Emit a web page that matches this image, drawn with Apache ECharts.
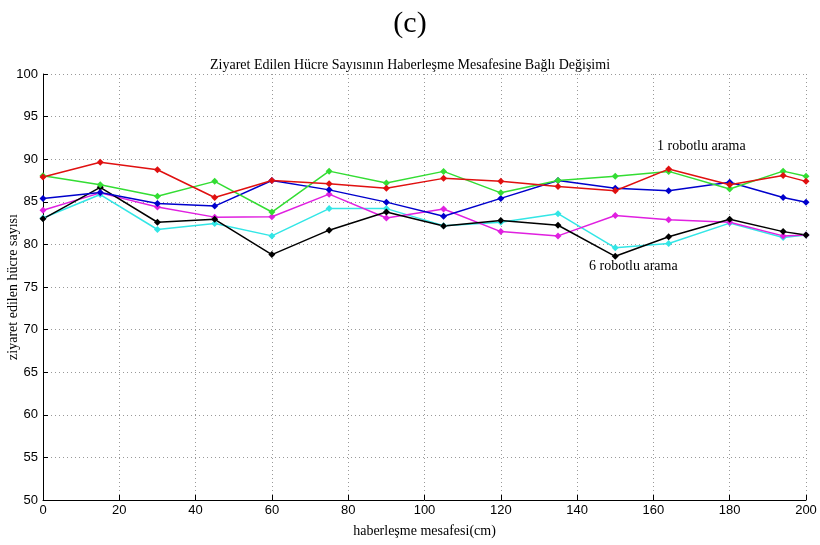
<!DOCTYPE html>
<html>
<head>
<meta charset="utf-8">
<script src="https://cdn.jsdelivr.net/npm/echarts@6/dist/echarts.min.js"></script>
<style>
  html, body { margin: 0; padding: 0; background: #fff; }
  #chart { width: 820px; height: 545px; }
</style>
</head>
<body>
<div id="chart"></div>
<script>
// mesafe (cm)
const distances = [0, 15, 30, 45, 60, 75, 90, 105, 120, 135, 150, 164, 180, 194, 200]

// her seri bir robot sayisi
const redValues = [87.9, 89.65, 88.76, 85.5, 87.5, 87.13, 86.6, 87.75, 87.4, 86.8, 86.3, 88.84, 87.0, 88.1, 87.4]
const greenValues = [88.06, 87.0, 85.66, 87.4, 83.8, 88.6, 87.2, 88.57, 86.05, 87.5, 88.0, 88.57, 86.5, 88.6, 88.0]
const blueValues = [85.4, 86.1, 84.8, 84.5, 87.5, 86.4, 84.96, 83.3, 85.4, 87.5, 86.6, 86.3, 87.3, 85.5, 84.96]
const magentaValues = [84.0, 86.05, 84.4, 83.2, 83.25, 85.9, 83.1, 84.15, 81.5, 81.0, 83.4, 82.9, 82.6, 81.0, 81.1]
const cyanValues = [83.1, 85.85, 81.75, 82.45, 81.0, 84.2, 84.2, 82.2, 82.6, 83.6, 79.6, 80.1, 82.5, 80.8, 81.1]
const blackValues = [83.0, 86.7, 82.6, 82.95, 78.8, 81.67, 83.8, 82.17, 82.8, 82.25, 78.6, 80.9, 82.95, 81.5, 81.1]

const chart = echarts.init(document.getElementById('chart'))

function makeSeries(values, color) {
  return {
    type: 'line',
    data: values.map((v, i) => [distances[i], v]),
    symbol: 'diamond',
    symbolSize: 7,
    showSymbol: true,
    lineStyle: { color: color, width: 1.5 },
    itemStyle: { color: color },
    animation: false,
  }
}

const series = [
  makeSeries(cyanValues, '#33e6e6'),
  makeSeries(magentaValues, '#e020e0'),
  makeSeries(blackValues, '#000000'),
  makeSeries(blueValues, '#0000cc'),
  makeSeries(greenValues, '#33dd33'),
  makeSeries(redValues, '#e01010'),
]

chart.setOption({
  backgroundColor: '#fff',
  animation: false,
  title: [
    {
      text: '(c)',
      left: 'center',
      top: 4,
      textStyle: { fontFamily: 'Liberation Serif', fontSize: 30, fontWeight: 'normal', color: '#000' },
    },
    {
      text: 'Ziyaret Edilen Hücre Sayısının Haberleşme Mesafesine Bağlı Değişimi',
      left: 'center',
      top: 53,
      textStyle: { fontFamily: 'Liberation Serif', fontSize: 14, fontWeight: 'normal', color: '#000' },
    },
  ],
  grid: {
    left: 43,
    right: 14,
    top: 74,
    bottom: 45,
    outerBoundsMode: 'none',
  },
  xAxis: {
    type: 'value',
    min: 0,
    max: 200,
    interval: 20,
    name: 'haberleşme mesafesi(cm)',
    nameLocation: 'middle',
    nameGap: 24,
    nameTextStyle: { fontFamily: 'Liberation Serif', fontSize: 14, color: '#000' },
    axisLine: { show: true, lineStyle: { color: '#000', width: 1 } },
    axisTick: { show: true, inside: true, length: 5, lineStyle: { color: '#000' } },
    axisLabel: { fontFamily: 'Liberation Sans', fontSize: 13, color: '#000', margin: 4 },
    splitLine: { show: true, lineStyle: { color: '#999', type: [1, 3], width: 1 } },
  },
  yAxis: {
    type: 'value',
    min: 50,
    max: 100,
    interval: 5,
    axisLine: { show: true, lineStyle: { color: '#000', width: 1 } },
    axisTick: { show: true, inside: true, length: 5, lineStyle: { color: '#000' } },
    axisLabel: { fontFamily: 'Liberation Sans', fontSize: 13, color: '#000', margin: 5 },
    splitLine: { show: true, lineStyle: { color: '#999', type: [1, 3], width: 1 } },
  },
  graphic: [
    {
      type: 'text',
      x: 13,
      y: 287,
      rotation: Math.PI / 2,
      style: {
        text: 'ziyaret edilen hücre sayısı',
        font: '14px "Liberation Serif"',
        fill: '#000',
        align: 'center',
        verticalAlign: 'middle',
      },
    },
    {
      type: 'text',
      left: 657,
      top: 139,
      style: { text: '1 robotlu arama', font: '14px "Liberation Serif"', fill: '#000' },
    },
    {
      type: 'text',
      left: 589,
      top: 259,
      style: { text: '6 robotlu arama', font: '14px "Liberation Serif"', fill: '#000' },
    },
  ],
  series: series,
})
</script>
</body>
</html>
